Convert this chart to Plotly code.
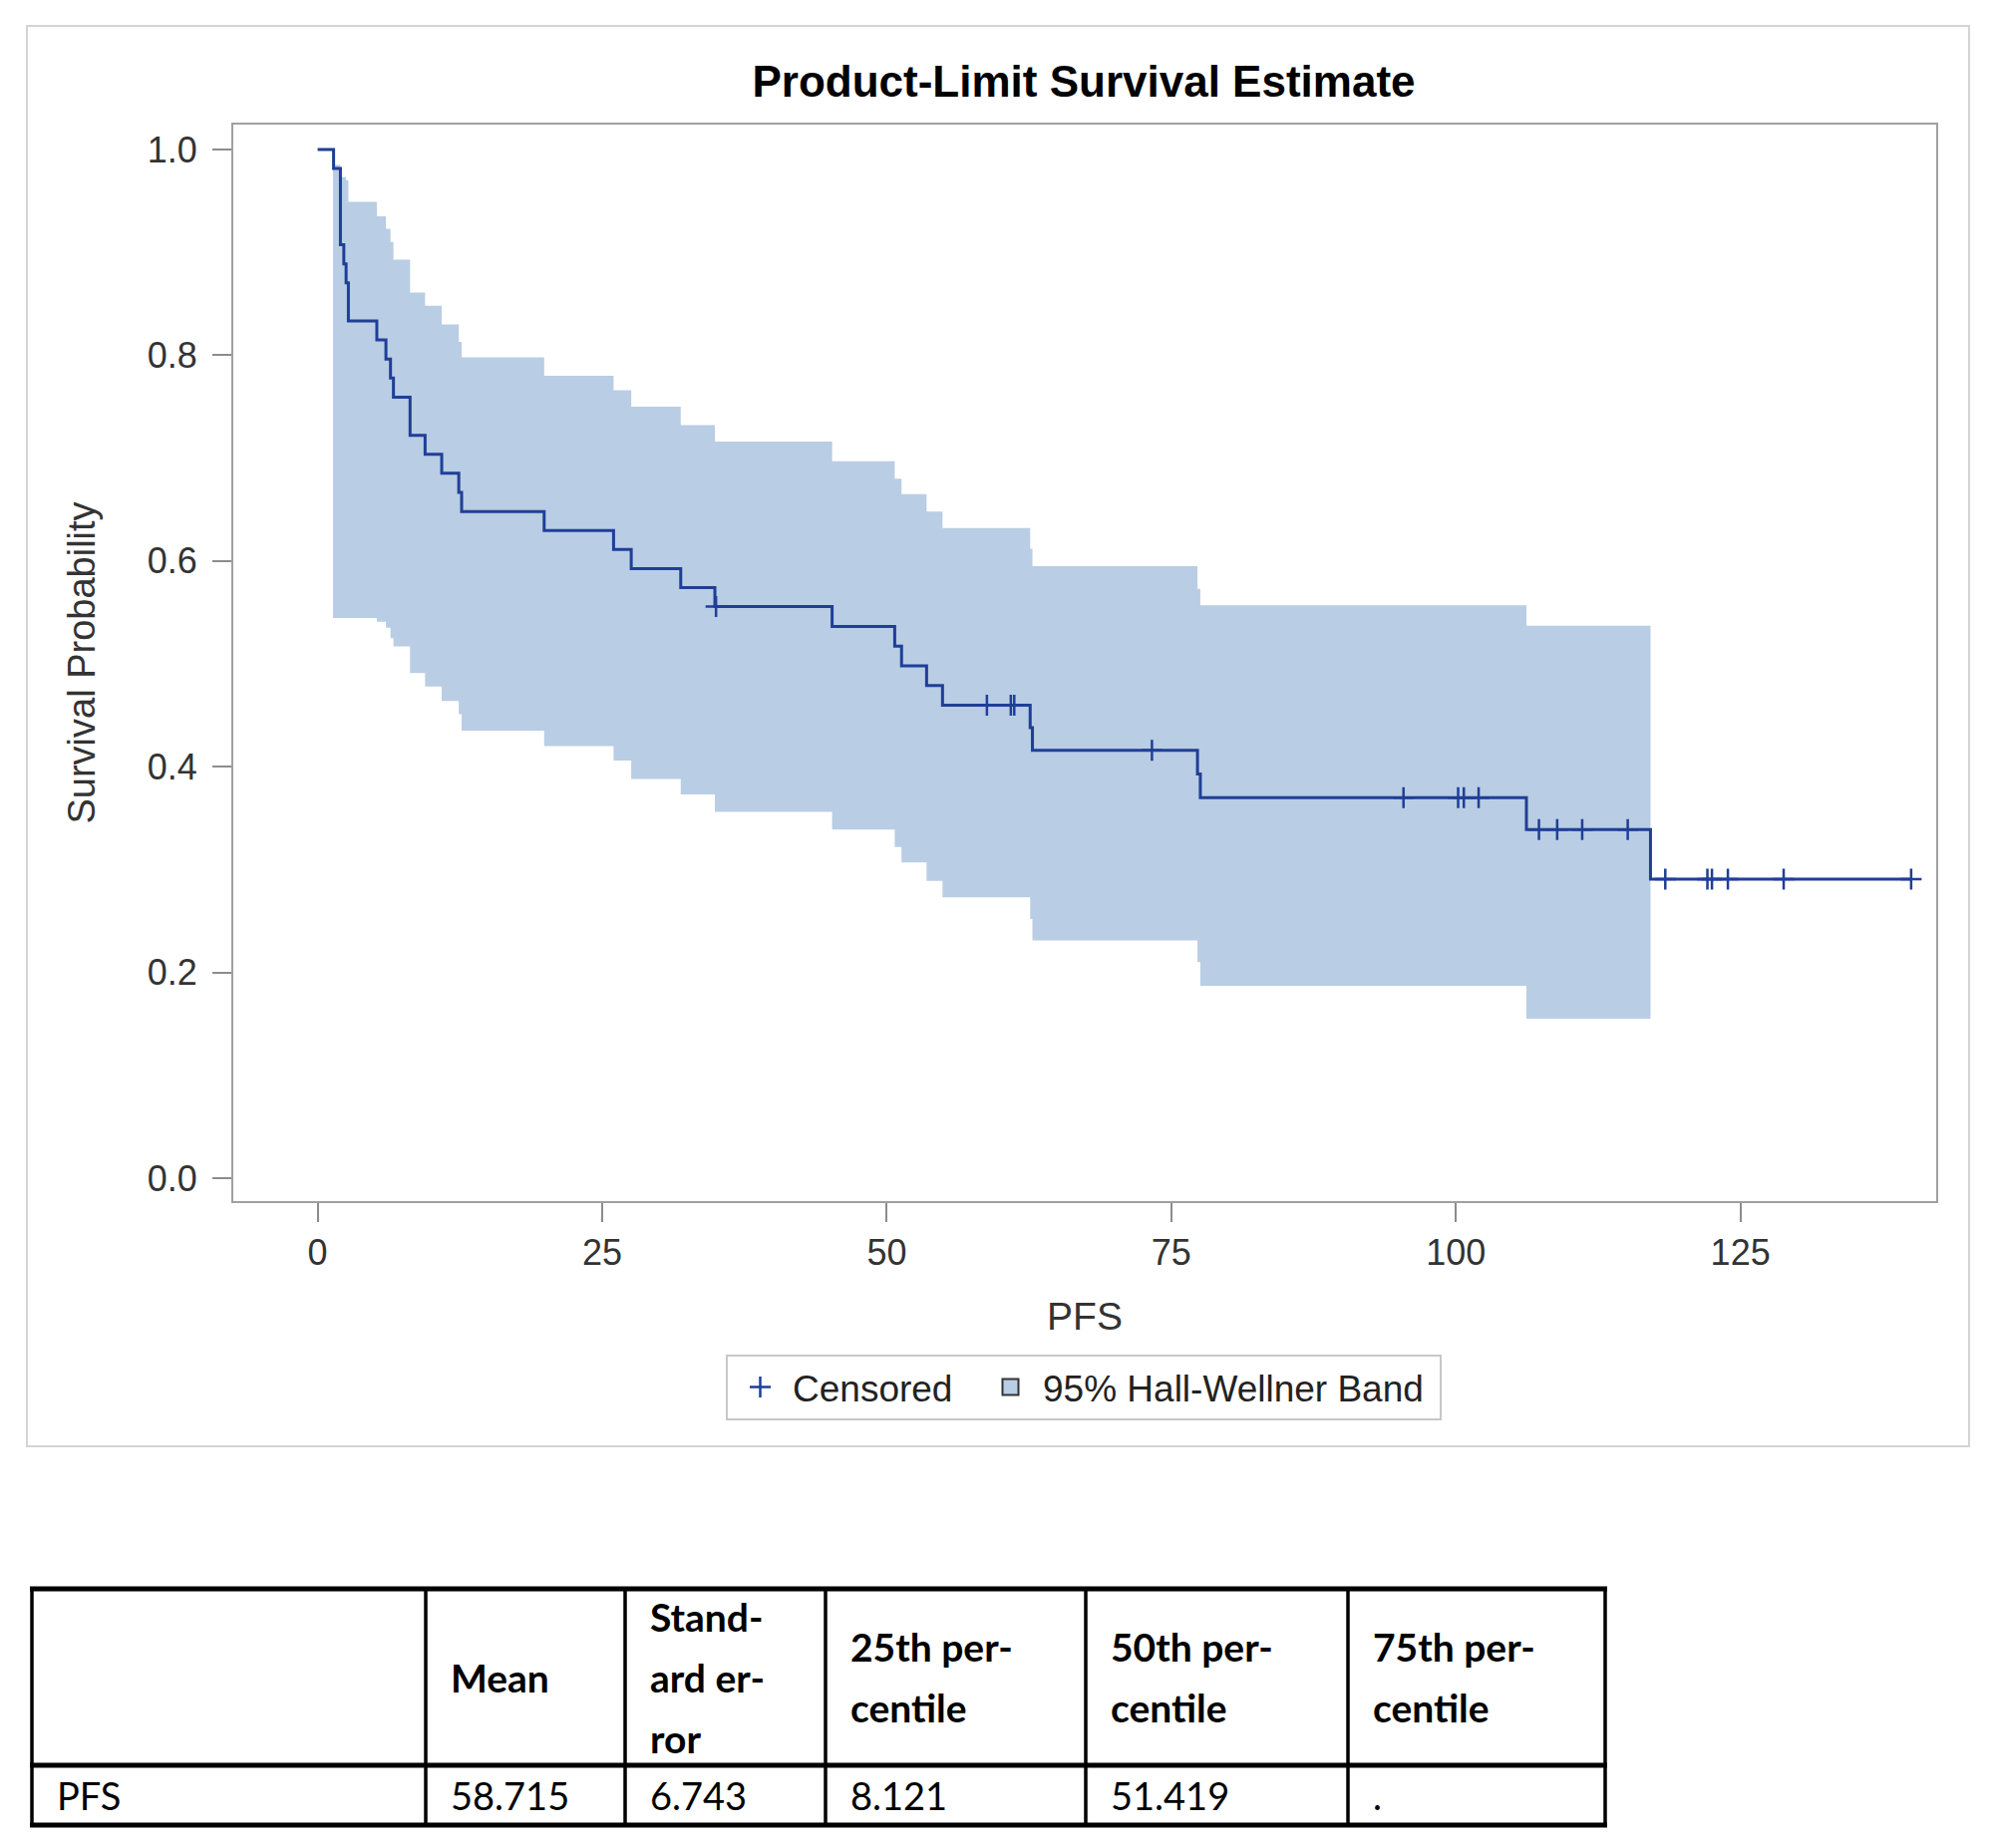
import plotly.graph_objects as go

# ---------------- data ----------------
event_times = [0, 1.4, 2.0, 2.3, 2.5, 2.7, 5.2, 6.0, 6.4, 6.66, 8.12, 9.44, 10.9, 12.4, 12.65,
               19.9, 26.0, 27.55, 31.9, 34.9, 45.2, 50.7, 51.3, 53.5, 54.9, 62.6, 62.8,
               77.3, 77.55, 106.2, 117.1]
survival = [1.0, 0.9815, 0.9074, 0.8889, 0.8704, 0.8333, 0.8148, 0.7963, 0.7778, 0.7593,
            0.7222, 0.7037, 0.6852, 0.6667, 0.6481, 0.6296, 0.6111, 0.5926, 0.5741, 0.5556,
            0.5364, 0.5172, 0.4981, 0.4789, 0.4598, 0.4379, 0.4160, 0.3929, 0.3698, 0.3390,
            0.2906]

censor_times = [35.0, 58.8, 60.9, 61.2, 73.3, 95.4, 100.2, 100.7, 102.0, 107.3, 108.9,
                111.1, 115.1, 118.4, 122.1, 122.5, 123.9, 128.8, 140.0]
censor_surv = [0.5556, 0.4598, 0.4598, 0.4598, 0.4160, 0.3698, 0.3698, 0.3698, 0.3698,
               0.3390, 0.3390, 0.3390, 0.3390, 0.2906, 0.2906, 0.2906, 0.2906, 0.2906, 0.2906]

band_times = [1.35, 2.0, 2.3, 2.5, 2.7, 5.2, 6.0, 6.4, 6.66, 8.12, 9.44, 10.9, 12.4, 12.65,
              19.9, 26.0, 27.55, 31.9, 34.9, 45.2, 50.7, 51.3, 53.5, 54.9, 62.6, 62.8,
              77.3, 77.55, 106.2]
band_upper = [0.985, 0.973, 0.973, 0.970, 0.949, 0.935, 0.923, 0.910, 0.893, 0.861, 0.848,
              0.830, 0.813, 0.798, 0.780, 0.766, 0.750, 0.732, 0.716, 0.697, 0.680, 0.665,
              0.648, 0.632, 0.612, 0.595, 0.573, 0.557, 0.537]
band_lower = [0.5446, 0.5446, 0.5446, 0.5446, 0.5446, 0.541, 0.535, 0.525, 0.517, 0.491,
              0.478, 0.464, 0.451, 0.435, 0.420, 0.406, 0.388, 0.373, 0.356, 0.339, 0.322,
              0.307, 0.289, 0.273, 0.252, 0.231, 0.210, 0.187, 0.155]

x_ticks = [0, 25, 50, 75, 100, 125]
y_ticks = [0.0, 0.2, 0.4, 0.6, 0.8, 1.0]

table_header = [[""], ["Mean"], ["Stand-", "ard er-", "ror"], ["25th per-", "centile"],
                ["50th per-", "centile"], ["75th per-", "centile"]]
table_row_label = "PFS"
table_values = ["58.715", "6.743", "8.121", "51.419", "."]

# ---------------- styling ----------------
OFF = 8                      # default page body margin
W, H = 2004 - 2 * OFF, 1854 - 2 * OFF
# plot area in page pixel coordinates
PL, PR, PT, PB = 234, 1942, 125, 1205
LINE = "#1F3F97"
BAND = "rgb(185,205,228)"
FONT = "Liberation Sans, Arial, sans-serif"
TFONT = "Lato, Noto Sans, sans-serif"


def fx(X):
    return (X - PL) / (PR - PL)


def fy(Y):
    return (PB - Y) / (PB - PT)


fig = go.Figure()

band_end = event_times[-1]
fig.add_trace(go.Scatter(x=band_times + [band_end], y=band_upper + [band_upper[-1]],
                         mode="lines", line=dict(width=0, shape="hv", color=BAND),
                         showlegend=False, hoverinfo="skip"))
fig.add_trace(go.Scatter(x=band_times + [band_end], y=band_lower + [band_lower[-1]],
                         mode="lines", line=dict(width=0, shape="hv", color=BAND),
                         fill="tonexty", fillcolor=BAND, showlegend=False, hoverinfo="skip"))

fig.add_trace(go.Scatter(x=event_times + [max(censor_times)], y=survival + [survival[-1]],
                         mode="lines", line=dict(color=LINE, width=3, shape="hv"),
                         showlegend=False))

fig.add_trace(go.Scatter(x=censor_times, y=censor_surv, mode="markers", name="Censored  ",
                         marker=dict(symbol="cross-thin", size=15,
                                     line=dict(color=LINE, width=2.5), color=LINE)))

fig.add_trace(go.Scatter(x=[None], y=[None], mode="markers", name="95% Hall-Wellner Band ",
                         marker=dict(symbol="square", size=16, color=BAND,
                                     line=dict(color="#333333", width=2))))

fig.update_layout(
    width=W, height=H,
    margin=dict(l=PL - OFF, r=W - (PR - OFF), t=PT - OFF, b=H - (PB - OFF), autoexpand=False),
    paper_bgcolor="white", plot_bgcolor="white",
    font=dict(family=FONT, size=37, color="#222222"),
    title=dict(text="Product-Limit Survival Estimate", x=fx(1087), xref="paper",
               xanchor="center", y=1 - (82 - OFF) / H, yref="container", yanchor="middle",
               font=dict(family=FONT, size=44, color="black", weight="bold")),
    xaxis=dict(range=[-7.41, 142.2], tickvals=x_ticks, ticks="outside", ticklen=19,
               tickwidth=1.5, tickcolor="#8C8C8C", showgrid=False, zeroline=False,
               showline=True, mirror=True, linecolor="#A0A0A0", linewidth=2,
               tickfont=dict(size=36, color="#333333"),
               title=dict(text="PFS", font=dict(size=39, color="#333333"), standoff=30)),
    yaxis=dict(range=[-0.0223, 1.0242], tickvals=y_ticks, tickformat=".1f", ticks="outside",
               ticklen=19, tickwidth=1.5, tickcolor="#8C8C8C", showgrid=False, zeroline=False,
               showline=True, mirror=True, linecolor="#A0A0A0", linewidth=2,
               ticklabelstandoff=8,
               tickfont=dict(size=36, color="#333333"),
               title=dict(text="Survival Probability", font=dict(size=38, color="#333333"),
                          standoff=40)),
    legend=dict(orientation="h", traceorder="normal", x=fx(1087), xanchor="center",
                y=fy(1359), yanchor="top",
                bordercolor="#C8C8C8", borderwidth=2, bgcolor="white",
                font=dict(size=37, color="#222222"), itemwidth=55),
)

shapes = []
# outer chart border
shapes.append(dict(type="rect", xref="paper", yref="paper", x0=fx(27), x1=fx(1975),
                   y0=fy(1451), y1=fy(26), line=dict(color="#D4D4D4", width=2), layer="below"))

# table
col_edges = [32, 427, 627, 828, 1089, 1352, 1610]
row_edges = [1594, 1771, 1831]
for Y in row_edges:
    shapes.append(dict(type="line", xref="paper", yref="paper", x0=fx(col_edges[0] - 2),
                       x1=fx(col_edges[-1] + 2), y0=fy(Y), y1=fy(Y),
                       line=dict(color="black", width=5)))
for X in col_edges:
    shapes.append(dict(type="line", xref="paper", yref="paper", x0=fx(X), x1=fx(X),
                       y0=fy(row_edges[0]), y1=fy(row_edges[-1]),
                       line=dict(color="black", width=3.5)))

annotations = []
header_mid = (row_edges[0] + row_edges[1]) / 2
line_gap = 61
for ci, lines in enumerate(table_header):
    n = len(lines)
    for li, txt in enumerate(lines):
        if not txt:
            continue
        Y = header_mid + (li - (n - 1) / 2) * line_gap
        annotations.append(dict(xref="paper", yref="paper", x=fx(col_edges[ci] + 23), y=fy(Y),
                                xanchor="left", yanchor="middle", showarrow=False, text=txt,
                                font=dict(family=TFONT, size=39, color="black", weight="bold")))
row_mid = (row_edges[1] + row_edges[2]) / 2
annotations.append(dict(xref="paper", yref="paper", x=fx(col_edges[0] + 23), y=fy(row_mid),
                        xanchor="left", yanchor="middle", showarrow=False, text=table_row_label,
                        font=dict(family=TFONT, size=38, color="black")))
for ci, txt in enumerate(table_values):
    annotations.append(dict(xref="paper", yref="paper", x=fx(col_edges[ci + 1] + 23),
                            y=fy(row_mid), xanchor="left", yanchor="middle", showarrow=False,
                            text=txt, font=dict(family=TFONT, size=38, color="black")))

fig.update_layout(shapes=shapes, annotations=annotations)
fig.write_html("out.html")
